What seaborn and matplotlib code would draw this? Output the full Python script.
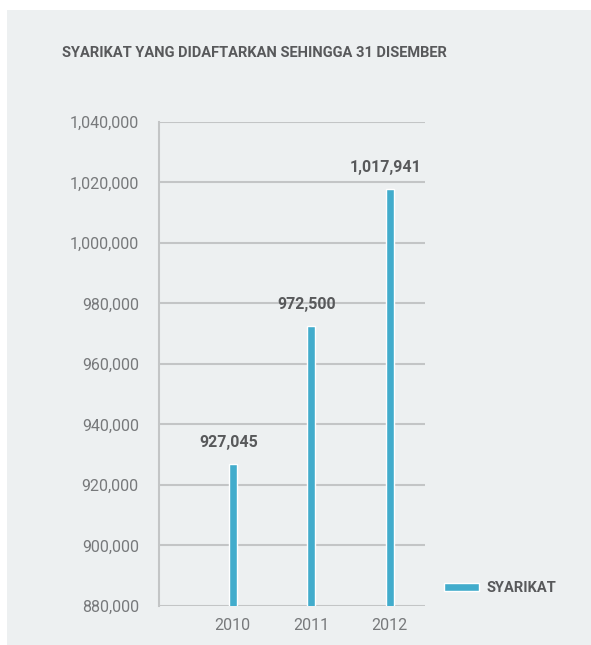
import matplotlib
matplotlib.use("Agg")
import matplotlib.pyplot as plt
from matplotlib.patches import Rectangle
from matplotlib.ticker import FuncFormatter, MultipleLocator
import seaborn as sns
import pandas as pd

# Registered companies as at 31 December
years = ["2010", "2011", "2012"]
companies = [927045, 972500, 1017941]
value_labels = ["927,045", "972,500", "1,017,941"]
series_name = "SYARIKAT"
title = "SYARIKAT YANG DIDAFTARKAN SEHINGGA 31 DISEMBER"

df = pd.DataFrame({"year": years, "companies": companies})

sns.set_theme(style="white")
plt.rcParams["font.family"] = ["Roboto", "DejaVu Sans"]

BAR = "#42accc"
GRID = "#c3c5c6"
PANEL = "#edf0f1"
TICK = "#77797b"
DARK = "#58595b"

fig = plt.figure(figsize=(5.91, 6.45), dpi=100)
fig.patch.set_facecolor("white")
fig.patches.append(Rectangle((7 / 591, 0), 1, 1 - 10 / 645, transform=fig.transFigure,
                             facecolor=PANEL, edgecolor="none", zorder=-10))

ax = fig.add_axes([159 / 591, 1 - 606 / 645, (425 - 159) / 591, (606 - 122) / 645])
ax.set_facecolor("none")

sns.barplot(data=df, x="year", y="companies", color=BAR, width=0.1,
            saturation=1, ax=ax, label=series_name, zorder=3)

ax.set_ylim(880000, 1040000)
ax.set_xlim(-0.94, 2.45)
ax.yaxis.set_major_locator(MultipleLocator(20000))
ax.yaxis.set_major_formatter(FuncFormatter(lambda v, p: f"{int(v):,}"))
ax.grid(axis="y", color=GRID, linewidth=1.5, zorder=0)
ax.set_axisbelow(True)
for s in ["top", "right", "bottom"]:
    ax.spines[s].set_visible(False)
ax.spines["left"].set_color(GRID)
ax.spines["left"].set_linewidth(1.5)
ax.tick_params(axis="both", length=0, labelsize=11.5, labelcolor=TICK)
ax.tick_params(axis="y", pad=14.5)
ax.tick_params(axis="x", pad=9)
ax.set_xlabel("")
ax.set_ylabel("")

for i, (v, lab) in enumerate(zip(companies, value_labels)):
    ax.annotate(lab, (i, v), xytext=(-3, 10), textcoords="offset points",
                ha="center", va="bottom", fontsize=11.5, fontweight="bold", color=DARK)

fig.text(62 / 591, 1 - 53 / 645, title, ha="left", va="center",
         fontsize=10.5, fontweight="bold", color=DARK)

leg = ax.legend(loc="center left", bbox_to_anchor=(1.056, 0.037), frameon=False,
                handlelength=2.35, handleheight=0.5, handletextpad=0.55,
                borderaxespad=0.0, borderpad=0.3,
                prop={"size": 10.5, "weight": "bold"})
for t in leg.get_texts():
    t.set_color(DARK)

fig.savefig("out.png", dpi=100, facecolor=fig.get_facecolor())
